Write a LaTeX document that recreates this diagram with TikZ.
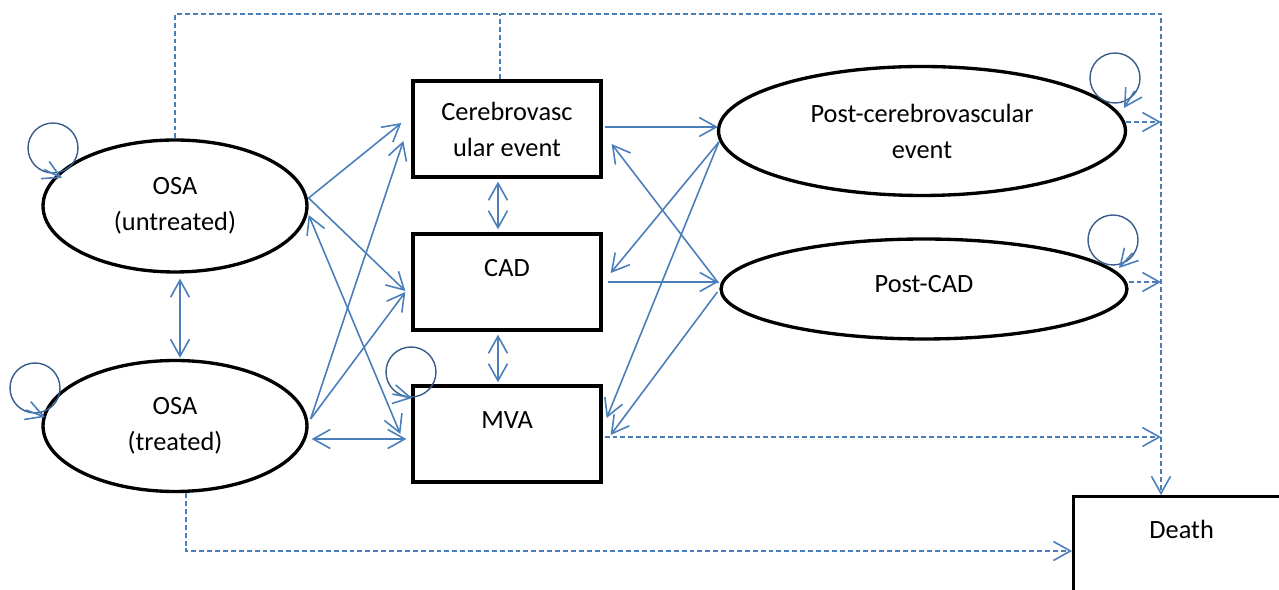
\documentclass[tikz,border=0pt]{standalone}
\usepackage{fontspec}
\setmainfont{Carlito}
\usepackage{tikz}
\usetikzlibrary{arrows.meta,calc,shapes.geometric}
\definecolor{lineblue}{RGB}{74,126,187}
\definecolor{loopblue}{RGB}{56,93,138}
\tikzset{>={Straight Barb[length=3.4mm,width=3.8mm]}}
\tikzset{
  box/.style={draw, line width=1.9pt, minimum width=3.76cm, minimum height=1.92cm, inner sep=0pt, align=center},
  onebox/.style={box, text height=10pt, text depth=16pt},
  state/.style={ellipse, draw, line width=1.9pt, inner sep=0pt, align=center},
  arrow/.style={->, lineblue, line width=0.9pt},
  dblarrow/.style={arrow, <->},
  dashedarrow/.style={arrow, dash pattern=on 2.8pt off 1.7pt},
  dashedline/.style={lineblue, line width=0.9pt, dash pattern=on 2.8pt off 1.7pt},
  loopcirc/.style={loopblue, line width=0.8pt},
}

\begin{document}
\begin{tikzpicture}[x=0.02cm, y=-0.02cm, font=\fontsize{15pt}{20.5pt}\selectfont]
\useasboundingbox (0,0) rectangle (1279,590);

% states
\node[state, minimum width=5.28cm, minimum height=2.64cm] (osau) at (175,206) {OSA\\(untreated)};
\node[state, minimum width=5.28cm, minimum height=2.62cm] (osat) at (175,426) {OSA\\(treated)};
\node[box] (cer) at (507,129) {Cerebrovasc\\ular event};
\node[onebox] (cad) at (507,282) {CAD};
\node[onebox] (mva) at (507,434) {MVA};
\node[state, minimum width=8.14cm, minimum height=2.58cm] (pce) at (922,131) {Post-cerebrovascular\\event};
\node[state, minimum width=8.12cm, minimum height=2cm, text height=10pt, text depth=6pt] (pcad) at (924,289) {Post-CAD};
% death runs off the page on the right and at the bottom
\node[box, anchor=north west, minimum width=5.2cm, minimum height=2.6cm, text height=10pt, text depth=1.26cm]
  (death) at (1072,495) {Death\hspace*{0.88cm}};

% self loops
\coordinate (tipu) at (62,178);
\coordinate (tipt) at (45,417);
\coordinate (tipm) at (412,398);
\coordinate (tipc) at (1124,108);
\coordinate (tipd) at (1119,268);
\draw[loopcirc] ($(osau)+(-122,-58)$) circle[radius=25];
\draw[loopcirc] ($(osat)+(-140,-38)$) circle[radius=25];
\draw[loopcirc] ($(mva)+(-96,-62)$) circle[radius=25];
\draw[loopcirc] ($(pce)+(193,-53)$) circle[radius=25];
\draw[loopcirc] ($(pcad)+(189,-49)$) circle[radius=25];
\draw[arrow] ($(tipu)+(-18,-8.5)$) -- (tipu);
\draw[arrow] ($(tipt)+(-19,-7)$) -- (tipt);
\draw[arrow] ($(tipm)+(-19.5,-4)$) -- (tipm);
\draw[arrow] ($(tipc)+(10.5,-17)$) -- (tipc);
\draw[arrow] ($(tipd)+(13.5,-15)$) -- (tipd);

% transitions
\draw[dblarrow] ($(osau.south)+(5,5)$) -- ($(osat.north)+(5,-1)$);
\draw[arrow] ($(osau.east)+(0,-8)$) -- ($(cer.west)+(-10,-6)$);
\draw[arrow] ($(osau.east)+(0,-8)$) -- ($(cad.west)+(-6,9)$);
\draw[dblarrow] ($(osau.east)+(0,9)$) -- ($(mva.west)+(-11,0)$);
\draw[arrow] ($(osat.east)+(2,-7)$) -- ($(cer.west)+(-8,12)$);
\draw[arrow] ($(osat.east)+(2,-7)$) -- ($(cad.west)+(-6,10)$);
\draw[dblarrow] ($(osat.east)+(3,13)$) -- ($(mva.west)+(-5,5)$);
\draw[dblarrow] ($(cer.south)+(-9,3)$) -- ($(cad.north)+(-9,-3)$);
\draw[dblarrow] ($(cad.south)+(-9,3)$) -- ($(mva.north)+(-9,-2)$);
\draw[arrow] ($(cer.east)+(2,-2)$) -- ($(pce.west)+(1,-4)$);
\draw[arrow] ($(pcad.west)+(-1,-6)$) -- ($(cer.east)+(9,15)$);
\draw[arrow] ($(pce.west)+(2,11)$) -- ($(cad.east)+(8,-9)$);
\draw[arrow] ($(pce.west)+(2,11)$) -- ($(mva.east)+(4,-16)$);
\draw[arrow] ($(cad.east)+(5,0)$) -- ($(pcad.west)+(-1,-7)$);
\draw[arrow] ($(pcad.west)+(-2,3)$) -- ($(mva.east)+(8,1)$);

% to death
\coordinate (corner) at (1161,14);
\coordinate (cerup) at ($(cer.north)+(-7,0)$);
\coordinate (pceout) at ($(pce.east)+(-1,-9)$);
\coordinate (pcadout) at ($(pcad.east)+(0,-7)$);
\coordinate (mvaout) at ($(mva.east)+(2,3)$);
\draw[dashedarrow] (osau.north) |- (corner) -- (corner |- death.north);
\draw[dashedline] (cerup) -- (cerup |- corner);
\draw[dashedarrow] (pceout) -- (pceout -| corner);
\draw[dashedarrow] (pcadout) -- (pcadout -| corner);
\draw[dashedarrow] (mvaout) -- (mvaout -| corner);
\draw[dashedarrow] ($(osat.south)+(11,0)$) |- ($(death.north west)+(0,56)$);

\end{tikzpicture}
\end{document}
